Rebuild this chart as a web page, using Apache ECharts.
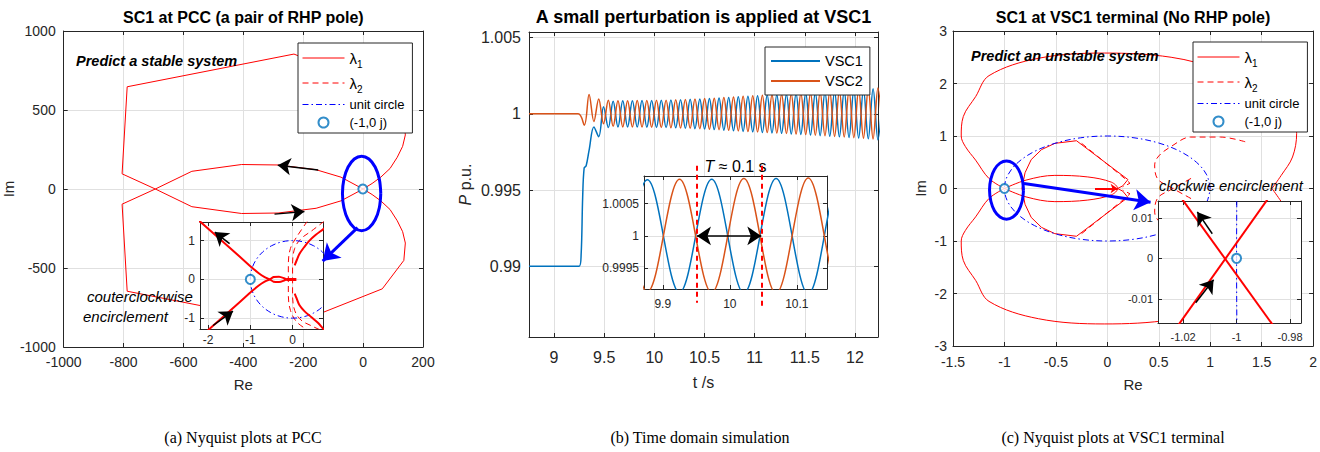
<!DOCTYPE html>
<html>
<head>
<meta charset="utf-8">
<script src="https://cdn.jsdelivr.net/npm/echarts@6.0.0/dist/echarts.min.js"></script>
<style>
html,body{margin:0;padding:0;background:#fff;}
#chart{width:1320px;height:452px;}
</style>
</head>
<body>
<div id="chart"></div>
<script>
// ================= DATA =================
// ---- Panel (a): Nyquist plots at PCC ----
const aTicksX = [-1000, -800, -600, -400, -200, 0, 200];
const aTicksY = [-1000, -500, 0, 500, 1000];
const aL1X = [0, -74, -157, -284, -406, -572, -694, -805, -788, -231, 64, 136, 141, 132, 114, 90, 59, 30, 0, 30, 59, 90, 114, 132, 141, 136, 64, -231, -788, -805, -694, -572, -406, -284, -157, -74, 0];
const aL1Y = [0, 75, 122, 152, 155, 112, 0, -96, -647, -854, -632, -452, -342, -270, -201, -130, -75, -35, 0, 35, 75, 130, 201, 270, 342, 452, 632, 854, 647, 96, 0, -112, -155, -152, -122, -75, 0];
const aEllX = [59, 54.1, 40.2, 19.5, -5, -29.5, -50.2, -64.1, -69, -64.1, -50.2, -29.5, -5, 19.5, 40.2, 54.1, 59];
const aEllY = [-28, 62.4, 138.9, 190, 208, 190, 138.9, 62.4, -28, -118.4, -194.9, -246, -264, -246, -194.9, -118.4, -28];
const aBlueArrow = [[-18.6, -244], [-135, -456]];
const aBlackArrows = [[[-150, 120], [-285, 151]], [[-296, -159], [-196, -142]]];
// inset (a)
const aiTicksX = [-2, -1, 0];
const aiTicksY = [-1, 0, 1];
const aiL1X = [-2.3, -1.5, -1.02, -0.8, -0.66, -0.54, -0.45, -0.32, -0.2, -0.15, -0.2, -0.32, -0.45, -0.54, -0.66, -0.8, -1.02, -1.5, -2.3];
const aiL1Y = [1.6, 0.83, 0.36, 0.16, 0.06, 0, -0.06, -0.07, -0.03, 0, 0.03, 0.07, 0.06, 0, -0.06, -0.16, -0.36, -0.83, -1.6];
const aiStemX = [-0.15, 0.09];
const aiStemY = [0, 0];
const aiArcUX = [0.05, 0.1, 0.165, 0.28, 0.4, 0.55, 0.72, 0.8];
const aiArcUY = [0.36, 0.5, 0.66, 0.84, 1.0, 1.15, 1.29, 1.36];
const aiArcLX = [0.05, 0.1, 0.165, 0.28, 0.44, 0.6, 0.72, 0.8];
const aiArcLY = [-0.37, -0.5, -0.67, -0.82, -0.97, -1.12, -1.27, -1.35];
const aiL2aX = [0.75, 0.45, 0.2, 0.05, 0.0, 0.0, 0.05, 0.2, 0.45, 0.75];
const aiL2aY = [1.5, 1.25, 1.05, 0.8, 0.4, -0.4, -0.8, -1.05, -1.2, -1.35];
const aiL2bX = [0.35, 0.1, -0.05, -0.1, -0.1, -0.05, 0.1, 0.35];
const aiL2bY = [1.5, 1.1, 0.8, 0.4, -0.4, -0.8, -1.1, -1.3];
const aiBlackArrows = [[[-1.49, 0.92], [-1.84, 1.22]], [[-1.88, -1.19], [-1.41, -0.82]]];

// unit circle and the critical point
const ucX = [1, 0.966, 0.866, 0.707, 0.5, 0.259, 0, -0.259, -0.5, -0.707, -0.866, -0.966, -1, -0.966, -0.866, -0.707, -0.5, -0.259, 0, 0.259, 0.5, 0.707, 0.866, 0.966, 1];
const ucY = [0, 0.259, 0.5, 0.707, 0.866, 0.966, 1, 0.966, 0.866, 0.707, 0.5, 0.259, 0, -0.259, -0.5, -0.707, -0.866, -0.966, -1, -0.966, -0.866, -0.707, -0.5, -0.259, 0];
const critPoint = [-1, 0];

// ---- Panel (b): time domain simulation ----
const bTicksX = [9, 9.5, 10, 10.5, 11, 11.5, 12];
const bTicksY = [0.99, 0.995, 1, 1.005];
const orangeT = [8.75, 9.24, 9.301, 9.349, 9.397, 9.445, 9.493, 9.541, 9.589, 9.637, 9.685, 9.733, 9.781, 9.829, 9.877, 9.925, 9.973, 10.021, 10.069, 10.117, 10.165, 10.213, 10.261, 10.309, 10.357, 10.405, 10.453, 10.501, 10.549, 10.597, 10.645, 10.693, 10.741, 10.789, 10.837, 10.885, 10.933, 10.981, 11.029, 11.077, 11.125, 11.173, 11.221, 11.269, 11.317, 11.365, 11.413, 11.461, 11.509, 11.557, 11.605, 11.653, 11.701, 11.749, 11.797, 11.845, 11.893, 11.941, 11.989, 12.037, 12.085, 12.133, 12.181, 12.229, 12.277];
const orangeV = [1, 1, 0.99926, 1.00127, 0.99950, 1.00098, 0.99935, 1.00090, 0.99918, 1.00086, 0.99914, 1.00086, 0.99914, 1.00087, 0.99913, 1.00088, 0.99912, 1.00089, 0.99911, 1.00090, 0.99909, 1.00092, 0.99907, 1.00094, 0.99905, 1.00097, 0.99902, 1.00100, 0.99899, 1.00103, 0.99896, 1.00107, 0.99892, 1.00111, 0.99888, 1.00115, 0.99884, 1.00118, 0.99881, 1.00122, 0.99877, 1.00125, 0.99874, 1.00128, 0.99871, 1.00132, 0.99867, 1.00135, 0.99864, 1.00139, 0.99860, 1.00143, 0.99856, 1.00147, 0.99852, 1.00151, 0.99848, 1.00155, 0.99844, 1.00159, 0.99840, 1.00164, 0.99835, 1.00170, 0.99830];
const blueT = [8.75, 9.25, 9.27, 9.285, 9.3, 9.32, 9.349, 9.397, 9.445, 9.493, 9.541, 9.589, 9.637, 9.685, 9.733, 9.781, 9.829, 9.877, 9.925, 9.973, 10.021, 10.069, 10.117, 10.165, 10.213, 10.261, 10.309, 10.357, 10.405, 10.453, 10.501, 10.549, 10.597, 10.645, 10.693, 10.741, 10.789, 10.837, 10.885, 10.933, 10.981, 11.029, 11.077, 11.125, 11.173, 11.221, 11.269, 11.317, 11.365, 11.413, 11.461, 11.509, 11.557, 11.605, 11.653, 11.701, 11.749, 11.797, 11.845, 11.893, 11.941, 11.989, 12.037, 12.085, 12.133, 12.181, 12.229, 12.277];
const blueV = [0.99, 0.99, 0.9908, 0.9945, 0.99645, 0.9966, 0.9976, 0.99914, 0.9985, 1.00046, 0.99910, 1.00082, 0.99914, 1.00086, 0.99914, 1.00086, 0.99913, 1.00087, 0.99912, 1.00088, 0.99911, 1.00089, 0.99910, 1.00091, 0.99908, 1.00093, 0.99906, 1.00095, 0.99903, 1.00098, 0.99900, 1.00101, 0.99897, 1.00104, 0.99893, 1.00108, 0.99889, 1.00112, 0.99885, 1.00116, 0.99882, 1.00119, 0.99878, 1.00123, 0.99875, 1.00126, 0.99872, 1.00129, 0.99868, 1.00133, 0.99865, 1.00136, 0.99861, 1.00140, 0.99857, 1.00144, 0.99853, 1.00148, 0.99849, 1.00152, 0.99845, 1.00156, 0.99841, 1.00160, 0.99836, 1.00165, 0.99830, 1.00170];
// inset (b)
const biTicksX = [9.9, 10, 10.1];
const biTicksY = [0.9995, 1, 1.0005];
const biMarkT = [9.951, 10.047];
const biMarkTop = 1.00109;
const biMarkBottom = [0.99896, 0.99889];
const biPeriodArrow = [[9.951, 1], [10.047, 1]];

// ---- Panel (c): Nyquist plots at VSC1 terminal ----
const cTicksX = [-1.5, -1, -0.5, 0, 0.5, 1, 1.5, 2];
const cTicksY = [-3, -2, -1, 0, 1, 2, 3];
const cOutUX = [-1, -1.15, -1.28, -1.38, -1.42, -1.40, -1.28, -1.15, -0.67, -0.03, 0.62, 1.1, 1.5, 1.76, 1.84, 1.8, 1.69, 1.6];
const cOutUY = [0, 0.19, 0.54, 0.8, 1.0, 1.37, 1.75, 2.15, 2.48, 2.58, 2.5, 2.25, 1.85, 1.45, 1.05, 0.6, 0.25, 0];
const cOutLX = [-1, -1.15, -1.28, -1.38, -1.42, -1.40, -1.28, -1.15, -0.67, -0.03, 0.62, 1.1, 1.5, 1.76, 1.84, 1.8, 1.69, 1.6];
const cOutLY = [0, -0.19, -0.54, -0.8, -1.0, -1.37, -1.75, -2.15, -2.48, -2.58, -2.5, -2.25, -1.85, -1.45, -1.05, -0.6, -0.25, 0];
const cLobeX = [-1, -0.79, -0.51, -0.19, 0.04, 0.1, 0.04, -0.19, -0.51, -0.79, -1];
const cLobeY = [0, 0.16, 0.25, 0.22, 0.12, 0, -0.12, -0.22, -0.25, -0.16, 0];
const cKiteX = [-0.3, 0.2, 0.15, 0.1, 0.15, 0.2, -0.3, -0.51, -0.64, -0.74, -0.8, -0.83, -0.8, -0.74, -0.64, -0.51, -0.3];
const cKiteY = [0.91, 0.17, 0.05, 0, -0.05, -0.17, -0.91, -0.86, -0.74, -0.55, -0.3, 0, 0.3, 0.55, 0.74, 0.86, 0.91];
const cL2UX = [1.34, 1.1, 0.81, 0.62, 0.5, 0.46, 0.49, 0.62, 0.84];
const cL2UY = [0.89, 0.98, 0.98, 0.8, 0.62, 0.45, 0.18, 0.02, -0.22];
const cL2LX = [1.34, 1.1, 0.81, 0.62, 0.5, 0.46, 0.49, 0.62, 0.84];
const cL2LY = [-0.89, -0.98, -0.98, -0.8, -0.62, -0.45, -0.18, -0.02, 0.22];
const cL2KUX = [-0.25, 0.17, 0.22, 0.15];
const cL2KUY = [0.86, 0.19, 0.1, 0.03];
const cL2KLX = [-0.25, 0.17, 0.22, 0.15];
const cL2KLY = [-0.86, -0.19, -0.1, -0.03];
const cEllX = [-0.815, -0.828, -0.863, -0.917, -0.98, -1.043, -1.097, -1.132, -1.145, -1.132, -1.097, -1.043, -0.98, -0.917, -0.863, -0.828, -0.815];
const cEllY = [-0.03, 0.183, 0.362, 0.483, 0.525, 0.483, 0.362, 0.183, -0.03, -0.243, -0.422, -0.543, -0.585, -0.543, -0.422, -0.243, -0.03];
const cBlueArrow = [[-0.81, 0.095], [0.42, -0.26]];
const cRedArrow = [[-0.12, 0], [0.1, 0]];
// inset (c)
const ciTicksX = [-1.02, -1, -0.98];
const ciTicksY = [-0.01, 0, 0.01];
const ciLineAX = [-1.0215, -0.986];
const ciLineAY = [0.0157, -0.0169];
const ciLineBX = [-1.022, -0.988];
const ciLineBY = [-0.0167, 0.0150];
const ciBlackArrows = [[[-1.0091, 0.0061], [-1.0147, 0.0115]], [[-1.0153, -0.011], [-1.0086, -0.0053]]];

// legend labels (panel c series carry a trailing space so each legend owns its own series)
const namesA = ['λ₁', 'λ₂', 'unit circle', '(-1,0 j)'];
const namesC = ['λ₁ ', 'λ₂ ', 'unit circle ', '(-1,0 j) '];

// ================= CHART =================
const FONT = '"Liberation Sans", Arial, Helvetica, sans-serif';
const AXC = '#262626', GRC = '#E0E0E0';
const RED = '#FF0000', BLUE = '#0000FF', MBLUE = '#0072BD', MORANGE = '#D95319';
const fmt = v => String(parseFloat(Number(v).toPrecision(8)));
const pairs = (xs, ys) => xs.map((x, i) => [x, ys[i]]);
const dash = () => [6, 4];
const dashdot = () => [6, 3, 1.5, 3];
// legend sample for the dash-dot style, drawn as a filled 42 x 1 icon
const DASHDOT_ICON = 'path://M0,0h6v1h-6zM9,0h1.5v1h-1.5zM13.5,0h6v1h-6zM22.5,0h1.5v1h-1.5zM27,0h6v1h-6zM36,0h1.5v1h-1.5zM40.5,0h1.5v1h-1.5z';

const grids = [
  {left: 61, top: 31, width: 362, height: 316},      // a main
  {left: 200, top: 222, width: 123, height: 107, z: 5, show: true, backgroundColor: '#fff', borderWidth: 0}, // a inset
  {left: 529, top: 32, width: 349, height: 305},     // b main
  {left: 644, top: 176, width: 183, height: 113, z: 5, show: true, backgroundColor: '#fff', borderWidth: 0}, // b inset
  {left: 953, top: 31, width: 364, height: 315},     // c main
  {left: 1158, top: 201, width: 143, height: 122, z: 5, show: true, backgroundColor: '#fff', borderWidth: 0}  // c inset
];

const xAxes = [], yAxes = [];
function addAxes(g, xr, yr, xt, yt, fs, z, o) {
  const base = (ticks, r) => ({
    type: 'value', gridIndex: g, z: z, min: r[0], max: r[1], scale: true,
    axisLine: {show: true, onZero: false, lineStyle: {color: AXC, width: 1}},
    axisTick: {show: true, inside: true, length: 4, lineStyle: {color: AXC, width: 1}, customValues: ticks},
    splitLine: {show: false}, axisLabel: {show: false}
  });
  const lab = (ticks, m) => ({show: true, customValues: ticks, formatter: fmt, color: AXC, fontSize: fs, fontFamily: FONT, margin: m});
  const grid = {show: true, lineStyle: {color: GRC, width: 1}};
  xAxes.push(Object.assign(base(xt, xr), {position: 'bottom', splitLine: grid, axisLabel: lab(xt, o.xm || 7),
    name: o.xName || '', nameLocation: 'middle', nameGap: o.xGap || 30,
    nameTextStyle: {color: AXC, fontSize: o.nfs || fs, fontFamily: FONT}}));
  xAxes.push(Object.assign(base(xt, xr), {position: 'top', name: o.title || '', nameLocation: 'middle', nameGap: o.tGap || 6,
    nameTextStyle: Object.assign({color: '#000', fontSize: o.tfs || 16, fontWeight: o.tw || 'bold', fontFamily: FONT}, o.trich ? {rich: o.trich} : {})}));
  yAxes.push(Object.assign(base(yt, yr), {position: 'left', splitLine: grid, axisLabel: lab(yt, o.ym || 6),
    name: o.yName || '', nameLocation: 'middle', nameGap: o.yGap || 35,
    nameTextStyle: Object.assign({color: AXC, fontSize: o.nfs || fs, fontFamily: FONT}, o.yrich ? {rich: o.yrich} : {})}));
  yAxes.push(Object.assign(base(yt, yr), {position: 'right'}));
}
addAxes(0, [-1000, 200], [-1000, 1000], aTicksX, aTicksY, 14, 0, {xName: 'Re', yName: 'Im', xm: 8, ym: 8, xGap: 30, yGap: 38, nfs: 15, title: 'SC1 at PCC (a pair of RHP pole)', tfs: 16, tGap: 6});
addAxes(1, [-2.19, 0.72], [-1.28, 1.48], aiTicksX, aiTicksY, 12, 6, {xm: 5, ym: 5});
addAxes(2, [8.75, 12.23], [0.98536, 1.00537], bTicksX, bTicksY, 16, 0, {xName: 't /s', yName: '{i|P} p.u.', xm: 12, ym: 8, xGap: 37, yGap: 56, nfs: 16,
  yrich: {i: {fontStyle: 'italic', fontSize: 16, fontFamily: FONT, color: AXC}},
  title: 'A small perturbation is applied at VSC1', tfs: 18, tGap: 6});
addAxes(3, [9.872, 10.145], [0.999175, 1.00093], biTicksX, biTicksY, 12, 6, {xm: 9, ym: 5,
  title: '{i|T} ≈ 0.1 s', tfs: 16, tw: 'normal', tGap: 2, trich: {i: {fontStyle: 'italic', fontSize: 16, fontFamily: FONT, color: '#000'}}});
addAxes(4, [-1.5, 2], [-3, 3], cTicksX, cTicksY, 14, 0, {xName: 'Re', yName: 'Im', xm: 9, ym: 6, xGap: 31, yGap: 25, nfs: 15, title: 'SC1 at VSC1 terminal (No RHP pole)', tfs: 16, tGap: 6});
addAxes(5, [-1.0294, -0.9759], [-0.016, 0.0142], ciTicksX, ciTicksY, 11, 6, {xm: 8, ym: 5});

function ln(name, xs, ys, g, o) {
  o = o || {};
  return {type: 'line', name: name, data: pairs(xs, ys), xAxisIndex: 2 * g, yAxisIndex: 2 * g,
    symbol: 'none', smooth: o.smooth || false, clip: true, z: o.z || 2, silent: true,
    itemStyle: {color: o.color || RED},
    lineStyle: {color: o.color || RED, width: o.width || 1, type: o.type || 'solid'}};
}
function arrow(list, g, color, width, size, both, z) {
  return {type: 'lines', coordinateSystem: 'cartesian2d', xAxisIndex: 2 * g, yAxisIndex: 2 * g, silent: true,
    data: list.map(c => ({coords: c})), symbol: both ? ['arrow', 'arrow'] : ['none', 'arrow'], symbolSize: size,
    lineStyle: {color: color, width: width, opacity: 1, curveness: 0}, z: z, clip: false};
}
function marker(name, g, z) {
  return {type: 'scatter', name: name, data: [critPoint], xAxisIndex: 2 * g, yAxisIndex: 2 * g,
    symbol: 'emptyCircle', symbolSize: 9, itemStyle: {color: MBLUE, borderColor: MBLUE, borderWidth: 1}, z: z, silent: true};
}
const S = 0.35;
const series = [
  // panel (a) main
  ln(namesA[0], aL1X, aL1Y, 0, {width: 1}),
  marker(namesA[3], 0, 3),
  ln('blue ellipse a', aEllX, aEllY, 0, {color: BLUE, width: 3, smooth: S, z: 3}),
  arrow(aBlackArrows, 0, '#000', 1.5, [0, 13], false, 3),
  arrow([aBlueArrow], 0, BLUE, 3, [0, 16], false, 9),
  // panel (a) inset
  ln(namesA[1], aiL2aX, aiL2aY, 1, {type: dash(), width: 1, smooth: S, z: 7}),
  ln(namesA[1], aiL2bX, aiL2bY, 1, {type: dash(), width: 1, smooth: S, z: 7}),
  ln(namesA[2], ucX, ucY, 1, {color: BLUE, type: dashdot(), width: 1, smooth: S, z: 7}),
  ln(namesA[0], aiL1X, aiL1Y, 1, {width: 2, smooth: 0.2, z: 8}),
  ln(namesA[0], aiStemX, aiStemY, 1, {width: 3, z: 8}),
  ln(namesA[0], aiArcUX, aiArcUY, 1, {width: 2, smooth: S, z: 8}),
  ln(namesA[0], aiArcLX, aiArcLY, 1, {width: 2, smooth: S, z: 8}),
  marker(namesA[3], 1, 9),
  arrow(aiBlackArrows, 1, '#000', 1.5, [0, 13], false, 9),
  // panel (b) main
  {type: 'line', name: 'VSC1', data: pairs(blueT, blueV), xAxisIndex: 4, yAxisIndex: 4, symbol: 'none', smooth: 0.36, z: 2, silent: true, itemStyle: {color: MBLUE}, lineStyle: {color: MBLUE, width: 1.5}},
  {type: 'line', name: 'VSC2', data: pairs(orangeT, orangeV), xAxisIndex: 4, yAxisIndex: 4, symbol: 'none', smooth: 0.36, z: 2, silent: true, itemStyle: {color: MORANGE}, lineStyle: {color: MORANGE, width: 1.5}},
  // panel (b) inset
  {type: 'line', name: 'VSC1', data: pairs(blueT, blueV), xAxisIndex: 6, yAxisIndex: 6, symbol: 'none', smooth: 0.36, z: 7, silent: true, itemStyle: {color: MBLUE}, lineStyle: {color: MBLUE, width: 1.5}},
  {type: 'line', name: 'VSC2', data: pairs(orangeT, orangeV), xAxisIndex: 6, yAxisIndex: 6, symbol: 'none', smooth: 0.36, z: 7, silent: true, itemStyle: {color: MORANGE}, lineStyle: {color: MORANGE, width: 1.5}},
  {type: 'lines', coordinateSystem: 'cartesian2d', xAxisIndex: 6, yAxisIndex: 6, silent: true, clip: false, z: 8,
    data: biMarkT.map((t, i) => ({coords: [[t, biMarkTop], [t, biMarkBottom[i]]]})),
    lineStyle: {color: RED, width: 2, type: [5, 4], opacity: 1}},
  arrow([biPeriodArrow], 3, '#000', 1.5, [14, 14], true, 9),
  // panel (c) main
  ln(namesC[0], cOutUX, cOutUY, 4, {width: 1, smooth: S}),
  ln(namesC[0], cOutLX, cOutLY, 4, {width: 1, smooth: S}),
  ln(namesC[0], cLobeX, cLobeY, 4, {width: 1, smooth: S}),
  ln(namesC[0], cKiteX, cKiteY, 4, {width: 1}),
  ln(namesC[1], cL2UX, cL2UY, 4, {type: dash(), width: 1, smooth: S}),
  ln(namesC[1], cL2LX, cL2LY, 4, {type: dash(), width: 1, smooth: S}),
  ln(namesC[1], cL2KUX, cL2KUY, 4, {type: dash(), width: 1}),
  ln(namesC[1], cL2KLX, cL2KLY, 4, {type: dash(), width: 1}),
  ln(namesC[2], ucX, ucY, 4, {color: BLUE, type: dashdot(), width: 1, smooth: S}),
  marker(namesC[3], 4, 3),
  ln('blue ellipse c', cEllX, cEllY, 4, {color: BLUE, width: 3, smooth: S, z: 3}),
  arrow([cRedArrow], 4, RED, 2, [0, 7], false, 3),
  arrow([cBlueArrow], 4, BLUE, 3, [0, 16], false, 9),
  // panel (c) inset
  ln(namesC[2], ucX, ucY, 5, {color: BLUE, type: dashdot(), width: 1, smooth: S, z: 7}),
  ln(namesC[0], ciLineAX, ciLineAY, 5, {width: 2, z: 8}),
  ln(namesC[0], ciLineBX, ciLineBY, 5, {width: 2, z: 8}),
  marker(namesC[3], 5, 9),
  arrow(ciBlackArrows, 5, '#000', 1.5, [0, 13], false, 9)
];

const legendRich = {
  l: {fontSize: 15, lineHeight: 22, fontFamily: FONT, color: '#000'},
  s: {fontSize: 10, lineHeight: 10, verticalAlign: 'bottom', fontFamily: FONT, color: '#000'}
};
const legendFmt = name => {
  const n = name.trim();
  return n === 'λ₁' ? '{l|λ}{s|1}' : n === 'λ₂' ? '{l|λ}{s|2}' : n;
};
function nyqItems(names) {
  const hide = () => ({opacity: 0, color: 'rgba(0,0,0,0)', borderWidth: 0});
  const ts = lh => ({color: '#000', fontSize: 13, fontFamily: FONT, lineHeight: lh, rich: legendRich});
  return [
    {name: names[0], itemStyle: hide(), lineStyle: {color: RED, type: 'solid', width: 1}, textStyle: ts(22)},
    {name: names[1], itemStyle: hide(), lineStyle: {color: RED, type: dash(), width: 1}, textStyle: ts(22)},
    {name: names[2], icon: DASHDOT_ICON, itemStyle: {color: BLUE, opacity: 1, borderWidth: 0}, textStyle: ts(15)},
    {name: names[3], textStyle: ts(15)}
  ];
}
function nyqLegend(left, top, names) {
  return {
    orient: 'vertical', left: left, top: top, backgroundColor: '#fff', borderColor: AXC, borderWidth: 1, borderRadius: 0,
    itemWidth: 42, itemHeight: 10, itemGap: 3, itemTextGap: 5, z: 10, selectedMode: false, padding: [4, 8, 3, 4],
    formatter: legendFmt,
    textStyle: {color: '#000', fontSize: 13, fontFamily: FONT, rich: legendRich},
    data: nyqItems(names)
  };
}
const legends = [
  nyqLegend(298, 43, namesA),
  {orient: 'vertical', left: 765, top: 47, backgroundColor: '#fff', borderColor: AXC, borderWidth: 1, borderRadius: 0,
    itemWidth: 49, itemHeight: 10, itemGap: 4, itemTextGap: 4, z: 10, selectedMode: false, padding: [6, 7, 6, 5],
    textStyle: {color: '#000', fontSize: 14.5, fontFamily: FONT, lineHeight: 16},
    data: [{name: 'VSC1', itemStyle: {opacity: 0}, lineStyle: {color: MBLUE, width: 2}},
           {name: 'VSC2', itemStyle: {opacity: 0}, lineStyle: {color: MORANGE, width: 2}}]},
  nyqLegend(1193, 42, namesC)
];

function txt(x, y, text, font, align) {
  return {type: 'text', x: x, y: y, z: 20, silent: true,
    style: {text: text, font: font, fill: '#000', textAlign: align || 'left', align: align || 'left', textVerticalAlign: 'middle', verticalAlign: 'middle'}};
}
const graphics = [
  txt(76, 61, 'Predict a stable system', 'italic bold 14.5px ' + FONT),
  txt(87, 296, 'couterclockwise', 'italic 15px ' + FONT),
  txt(83, 316, 'encirclement', 'italic 15px ' + FONT),
  txt(971, 56, 'Predict an unstable system', 'italic bold 14.5px ' + FONT),
  txt(1159, 186, 'clockwie encirclement', 'italic 14.8px ' + FONT),
  txt(243, 437, '(a) Nyquist plots at PCC', '16px "Liberation Serif", "Times New Roman", serif', 'center'),
  txt(700, 437, '(b) Time domain simulation', '16px "Liberation Serif", "Times New Roman", serif', 'center'),
  txt(1113, 437, '(c) Nyquist plots at VSC1 terminal', '16px "Liberation Serif", "Times New Roman", serif', 'center')
];

const chart = echarts.init(document.getElementById('chart'), null, {renderer: 'svg'});
chart.setOption({
  animation: false,
  backgroundColor: '#fff',
  grid: grids,
  xAxis: xAxes,
  yAxis: yAxes,
  legend: legends,
  series: series,
  graphic: {elements: graphics}
});
</script>
</body>
</html>
